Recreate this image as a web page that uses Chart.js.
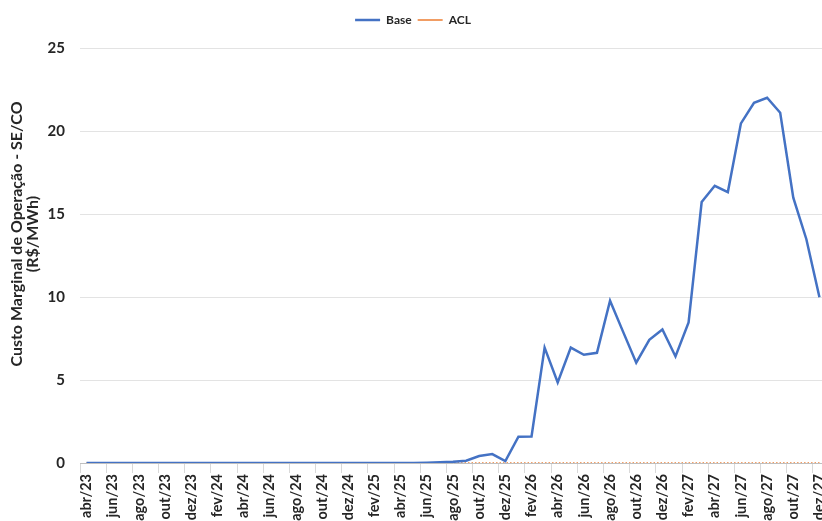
<!DOCTYPE html>
<html>
<head>
<meta charset="utf-8">
<script src="https://cdn.jsdelivr.net/npm/chart.js@4.4.0/dist/chart.umd.min.js"></script>
<style>
  html, body { margin: 0; padding: 0; background: #fff; overflow: hidden; }
  #wrap { position: relative; width: 826px; height: 521px; }
</style>
</head>
<body>
<div id="wrap"><canvas id="cmo"></canvas></div>
<script>
// meses abr/23 .. dez/27
const meses = ['jan','fev','mar','abr','mai','jun','jul','ago','set','out','nov','dez'];
const anos = ['23','24','25','26','27'];
const labels = [];
anos.forEach((a, k) => {
  meses.forEach((m, i) => {
    if (k === 0 && i < 3) return;
    labels.push(m + '/' + a);
  });
});

// CMO SE/CO (R$/MWh)
const base = [
  0, 0, 0, 0, 0, 0, 0, 0, 0,              // 2023
  0, 0, 0, 0, 0, 0, 0, 0, 0, 0, 0, 0,     // 2024
  0, 0, 0, 0, 0, 0.02, 0.04, 0.07, 0.14, 0.42, 0.54, 0.12,          // 2025
  1.58, 1.6, 6.95, 4.85, 6.95, 6.52, 6.64, 9.78, 7.9, 6.04, 7.42, 8.04, // 2026
  6.42, 8.47, 15.72, 16.7, 16.32, 20.46, 21.7, 22.0, 21.1, 15.98, 13.48, 9.98 // 2027
];
const acl = labels.map(() => 0);

const yTicks = [0, 5, 10, 15, 20, 25];
const tituloY = ['Custo Marginal de Operação - SE/CO', '(R$/MWh)'];

const fonte = "Lato, 'Open Sans', sans-serif";
const corTexto = '#262626';

// espaço extra abaixo da legenda
const legendGap = {
  id: 'legendGap',
  beforeInit(chart) {
    const fit = chart.legend.fit;
    chart.legend.fit = function () {
      fit.bind(chart.legend)();
      this.height += 12;
    };
  }
};

// título do eixo Y desenhado à mão (duas linhas, girado)
const tituloEixo = {
  id: 'tituloEixo',
  afterDraw(chart) {
    const ctx = chart.ctx;
    ctx.save();
    ctx.translate(17, 234);
    ctx.rotate(-Math.PI / 2);
    ctx.fillStyle = corTexto;
    ctx.font = "bold 16px " + fonte;
    ctx.textAlign = 'center';
    ctx.textBaseline = 'middle';
    ctx.fillText(tituloY[0], 0, 0);
    ctx.fillText(tituloY[1], 0, 16);
    ctx.restore();
  }
};

new Chart(document.getElementById('cmo'), {
  type: 'line',
  data: {
    labels: labels,
    datasets: [
      {
        label: 'Base',
        data: base,
        borderColor: '#4472C4',
        backgroundColor: '#4472C4',
        borderWidth: 2.5,
        pointRadius: 0,
        tension: 0,
        order: 0
      },
      {
        label: 'ACL',
        data: acl,
        borderColor: '#ED7D31',
        backgroundColor: '#ED7D31',
        borderWidth: 1.5,
        borderDash: [1.5, 2],
        pointRadius: 0,
        order: 1
      }
    ]
  },
  plugins: [legendGap, tituloEixo],
  options: {
    responsive: true,
    maintainAspectRatio: false,
    animation: false,
    layout: { padding: { top: 8, right: 0, left: 0, bottom: 0 } },
    plugins: {
      legend: {
        position: 'top',
        labels: {
          usePointStyle: true,
          pointStyle: 'line',
          pointStyleWidth: 25,
          boxWidth: 25,
          boxHeight: 2,
          padding: 6,
          color: corTexto,
          font: { family: fonte, size: 12, weight: 'bold' }
        }
      },
      tooltip: { enabled: false }
    },
    scales: {
      x: {
        offset: true,
        border: { display: true, color: '#bfbfbf', width: 1 },
        grid: {
          display: true,
          drawOnChartArea: false,
          offset: true,
          tickLength: 10,
          color: (ctx) => (ctx.index % 2 === 0 ? '#d9d9d9' : 'rgba(0,0,0,0)')
        },
        ticks: {
          autoSkip: false,
          maxRotation: 90,
          minRotation: 90,
          padding: 1,
          color: corTexto,
          font: { family: fonte, size: 14.5, weight: 'bold' },
          callback: function (v, i) { return i % 2 === 0 ? labels[i] : ''; }
        },
        afterFit: (s) => { s.height = 58; s.paddingLeft = 0; s.paddingRight = 0; }
      },
      y: {
        min: 0,
        max: 25,
        border: { display: false },
        grid: { color: '#e3e3e3', drawTicks: false },
        ticks: {
          stepSize: 5,
          padding: 15,
          color: corTexto,
          font: { family: fonte, size: 15, weight: 'bold' },
          callback: (v) => (yTicks.includes(v) ? v : '')
        },
        afterFit: (s) => { s.width = 80; }
      }
    }
  }
});
</script>
</body>
</html>
